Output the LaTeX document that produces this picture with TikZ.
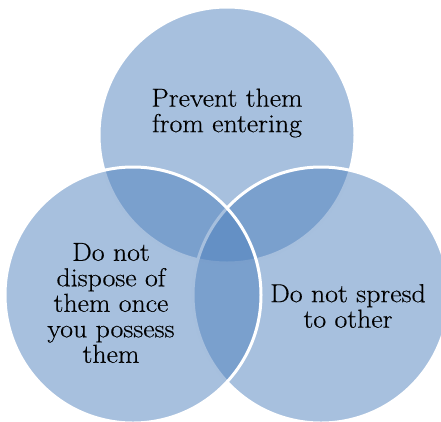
\documentclass[tikz,border=0pt]{standalone}
\usepackage{fontspec}
\setmainfont[FakeStretch=1.07,FakeBold=0.4]{Latin Modern Roman}
\usetikzlibrary{positioning}
\definecolor{vennblue}{RGB}{79,129,189}
\tikzset{
  venn/.style={circle,draw=white,line width=3pt,fill=vennblue,fill opacity=0.5,minimum size=256pt,inner sep=0pt},
  lbl/.style={align=center,font=\fontsize{26}{25.5}\selectfont,text=black}
}
\begin{document}
\begin{tikzpicture}[x=1pt,y=-1pt]
  \useasboundingbox (0,0) rectangle (441,421);
  % three sets
  \node[venn] (enter) at (227,135) {};
  \node[venn] (spread) at (321,295) {};
  \node[venn] (dispose) at (133,295) {};

  % labels
  \node[lbl] (tenter) at (227,113) {Prevent them\\from entering};
  \node[lbl] (tdispose) at (111,303) {Do not\\dispose of\\them once\\you possess\\them};
  \node[lbl] (tspread) at (348,306) {Do not spresd\\to other};
\end{tikzpicture}
\end{document}
